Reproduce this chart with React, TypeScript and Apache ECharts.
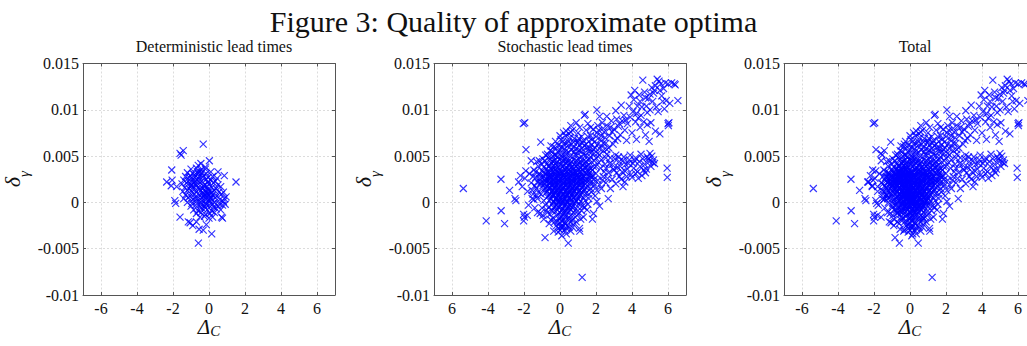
import React, { useEffect, useRef } from 'react';
import * as echarts from 'echarts';

const mainTitle = 'Figure 3: Quality of approximate optima';
const panelTitles = ['Deterministic lead times', 'Stochastic lead times', 'Total'];
const xTicks = [-6, -4, -2, 0, 2, 4, 6];
const yMin = -0.01;
const yMax = 0.015;
const yStep = 0.005;

// Deterministic lead times: [Delta_C, delta_gamma]
const deterministic: number[][] = [
  [-0.32, .0063], [-1.61, .0053], [-1.55, .0051], [-1.43, .0056], [0.02, .0045], [-2.07, .0035], [1.5, .0022],
  [-2.35, .0022], [-2.05, .0024], [-0.59, -.0044], [0.15, -.0034], [-1.61, -.0016], [-1.15, -.0021], [-1.05, -.0022],
  [0.7, -.0016], [0.75, -.0017], [-0.32, -.003], [-0.55, -.0029], [-0.9, -.0025], [-1.9, .0002], [-1.85, -.0001],
  [-2.1, .0018], [-1.8, .0017], [0.85, .0029], [0.5, .0033], [0.95, .0006], [0.9, -.0002], [0.8, .0011],
  [-0.45, .0042], [-0.6, .004], [-0.2, .0038], [-0.7, -.0021], [-0.15, -.0024],
  [-1.0, .0036], [-0.7, .0037], [-0.45, .0035], [-0.2, .0036],
  [-1.2, .0032], [-0.9, .0031], [-0.65, .0033], [-0.4, .0032], [-0.15, .0031], [0.1, .0033],
  [-1.3, .0028], [-1.05, .0029], [-0.8, .0027], [-0.55, .0028], [-0.3, .0029], [-0.05, .0027], [0.2, .0028], [0.45, .0026],
  [-1.4, .0024], [-1.15, .0023], [-0.9, .0025], [-0.65, .0024], [-0.4, .0023], [-0.15, .0025], [0.1, .0024], [0.35, .0023],
  [-1.5, .002], [-1.25, .0021], [-1.0, .0019], [-0.75, .002], [-0.5, .0021], [-0.25, .0019], [0.0, .002], [0.25, .0021], [0.5, .0019],
  [-1.35, .0016], [-1.1, .0015], [-0.85, .0017], [-0.6, .0016], [-0.35, .0015], [-0.1, .0017], [0.15, .0016], [0.4, .0015], [0.65, .0017],
  [-1.45, .0012], [-1.2, .0013], [-0.95, .0011], [-0.7, .0012], [-0.45, .0013], [-0.2, .0011], [0.05, .0012], [0.3, .0013], [0.55, .0011],
  [-1.3, .0008], [-1.05, .0007], [-0.8, .0009], [-0.55, .0008], [-0.3, .0007], [-0.05, .0009], [0.2, .0008], [0.45, .0007], [0.7, .0009],
  [-1.4, .0004], [-1.15, .0005], [-0.9, .0003], [-0.65, .0004], [-0.4, .0005], [-0.15, .0003], [0.1, .0004], [0.35, .0005], [0.6, .0003], [0.85, .0004],
  [-1.2, .0], [-0.95, -.0001], [-0.7, .0001], [-0.45, .0], [-0.2, -.0001], [0.05, .0001], [0.3, .0], [0.55, -.0001], [0.8, .0001],
  [-1.0, -.0004], [-0.75, -.0003], [-0.5, -.0005], [-0.25, -.0004], [0.0, -.0003], [0.25, -.0005], [0.5, -.0004], [0.75, -.0003],
  [-0.85, -.0008], [-0.6, -.0009], [-0.35, -.0007], [-0.1, -.0008], [0.15, -.0009], [0.4, -.0007], [0.65, -.0008],
  [-0.7, -.0012], [-0.45, -.0011], [-0.2, -.0013], [0.05, -.0012], [0.3, -.0011],
  [-0.5, -.0016], [-0.25, -.0015], [0.0, -.0017], [0.2, -.0016],
  [-0.3, .0006], [-0.1, .001], [0.0, .0003], [-0.2, .0013], [0.05, .0009], [-0.4, .0002], [-0.15, -.0002],
  [-0.05, .0014], [-0.25, .0009], [0.1, .0005], [-0.8, .003], [-0.6, .0026], [-0.7, .0019], [-0.9, .0014],
  [-0.55, .0033], [-0.75, .0023], [-1.0, .0018],
  [-0.35, .001], [-0.1, .0006], [0.15, .0011], [-0.3, .0018], [-0.05, .0022], [-0.55, .0014], [-0.8, .0005],
  [-0.6, .0031], [-0.35, .0027], [-0.95, .0022], [-1.1, .0027], [-0.45, -.0002], [0.2, -.0002], [-0.2, -.0006],
];

// Stochastic lead times: [Delta_C, delta_gamma]
const stochastic: number[][] = [
  // sparse outliers
  [-5.37, .0015], [-4.1, -.002], [-3.28, .0025], [-3.27, -.0009], [-3.08, -.0023], [-2.8, .0013], [-2.5, .0004],
  [-2.45, .0002], [-2.04, .0085], [-1.96, .0086], [-1.89, .0057], [-1.07, .0065], [-2.02, -.0013], [-1.98, -.0016],
  [-2.02, -.002], [-1.82, -.0014], [-0.83, -.0038], [-0.5, -.0019], [-0.09, -.0028], [0.1, -.0036], [0.46, -.0044],
  [1.23, -.0081], [1.08, -.0028], [1.1, -.0031], [1.86, -.0012], [1.8, -.0018], [2.68, .0004], [3.5, .0017],
  [5.95, .0037], [5.96, .0027], [6.0, .0085], [6.02, .0083], [-1.55, .0004], [-1.1, -.0012], [-0.95, -.0014],
  [0.0, -.003], [-0.2, -.0025], [0.5, -.0027], [0.75, -.0024], [1.3, -.0016], [1.5, -.0008], [2.2, -.0004], [2.05, .0001],
  // left halo
  [-2.3, .0022], [-2.1, .0017], [-1.95, .0026], [-1.8, .0012], [-1.7, .0031], [-1.6, .0021], [-1.5, .0009],
  [-1.45, .0035], [-1.35, .0027], [-1.3, .0015], [-1.25, .0004], [-1.2, .0039], [-1.15, .0031], [-1.1, .002],
  [-1.05, .0009], [-1.9, .0034], [-2.2, .0029], [-1.75, -.0003], [-1.4, -.0006], [-1.25, -.0011], [-1.0, -.0006],
  [-0.9, -.0018], [-0.7, -.0011], [-0.6, -.0023], [-0.35, -.0031], [-1.6, .0045], [-1.3, .0044], [-0.95, .0047],
  [-0.7, .0052], [-0.45, .0055], [-0.2, .0058], [-0.5, .0061], [-0.25, .0066], [0.05, .0068], [0.3, .0072],
  [0.5, .0074], [0.2, .0063], [0.45, .0066], [-0.1, .0062], [0.65, .0063], [0.8, .0069], [0.9, .0058], [1.1, .0062],
  [1.2, .0055], [1.5, .0059], [1.3, .0067], [1.7, .0072], [1.4, .0095], [2.05, .01], [1.9, .0065], [1.75, .0054],
  [2.0, .0048], [2.2, .0058],
  [-1.5, .0028], [-1.35, .0033], [-1.25, .0022], [-1.4, .0018], [-1.2, .0011], [-1.3, .0007], [-1.15, .0026],
  [-1.55, .0013], [-1.45, .0003], [-1.0, .0041], [-0.85, .0045], [-1.15, .0045], [-0.65, .0048], [-0.4, .005],
  [-0.55, .0056], [-0.8, .0051], [-0.35, .006], [-0.1, .0054], [0.1, .006], [0.25, .0058], [0.4, .0064], [0.55, .007],
  [0.15, .0066], [0.0, .0072], [0.35, .0077], [0.2, .0075], [0.6, .0076], [-0.9, .0002], [-0.8, -.0003],
  [-0.75, -.0008], [-0.6, -.0005], [-0.55, -.0013], [-0.45, -.0009], [-0.4, -.0017], [-0.3, -.0021], [-0.15, -.0021],
  [-0.1, -.0032], [0.05, -.0026], [0.25, -.003], [0.35, -.0034], [0.6, -.0031], [0.55, -.0018], [0.7, -.0027],
  [0.9, -.0021], [0.95, -.001], [1.15, -.0018], [1.25, -.0004], [1.4, .0002],
  // right of core
  [1.6, .0004], [1.75, .0011], [1.9, .0018], [2.1, .0024], [2.3, .0015], [2.4, .0028], [2.55, .0021], [2.7, .0032],
  [2.25, .0037], [2.0, .0031], [1.85, .0039], [2.15, .0043], [2.5, .0041], [1.65, .0046], [1.55, -.0002],
  [1.35, -.0005], [1.2, -.0009], [1.0, -.0013], [0.85, -.0016], [0.7, -.0019], [0.55, -.0021], [2.9, .0025],
  [3.1, .002], [2.8, .0015], [3.3, .0028], [3.6, .0022], [3.0, .0035],
  [1.6, .0009], [1.7, .0015], [1.85, .0021], [1.95, .0007], [2.05, .0013], [2.2, .0019], [2.35, .0024], [2.45, .0033],
  [2.3, .0046], [2.55, .0037], [2.65, .0026], [1.9, .0045], [2.0, .0039], [1.8, .0029], [1.9, .0025], [1.65, .0021],
  [1.7, .0049], [1.45, .0051], [1.85, .0057], [2.1, .0053], [1.6, .0055], [1.2, .0058], [1.35, .0061], [0.95, .0064],
  [1.05, .0069], [0.75, .0059], [0.5, .0054], [0.8, .0055], [2.4, .0064], [2.55, .0048], [2.75, .0042], [2.6, .0057],
  // lower arm
  [2.9, .0041], [3.05, .0047], [3.2, .0038], [3.3, .0044], [3.45, .0033], [3.55, .0049], [3.65, .0041], [3.75, .0036],
  [3.85, .0046], [3.95, .003], [4.05, .0042], [4.1, .0037], [4.2, .0048], [4.3, .0033], [4.4, .0044], [4.45, .0039],
  [4.55, .0029], [4.6, .0047], [4.7, .0041], [4.8, .0036], [4.85, .0049], [4.95, .0044], [5.05, .0039], [5.1, .005],
  [5.2, .0046], [5.25, .0042], [3.4, .0025], [3.7, .0028], [4.0, .0027], [4.2, .0031], [3.15, .0032], [2.95, .0036],
  [3.5, .0045], [3.9, .0051], [4.5, .0052], [5.0, .0053], [4.75, .0032], [4.35, .0026], [3.1, .0051], [2.8, .0048],
  [3.35, .0039], [3.6, .0034], [3.8, .0042], [4.15, .0045], [4.65, .0035], [4.9, .0047], [5.15, .0043], [3.25, .0049],
  // upper band
  [1.0, .0075], [1.2, .0071], [1.45, .0078], [1.6, .0066], [1.85, .0079], [2.0, .0071], [2.1, .0083], [2.25, .0068],
  [2.35, .0086], [2.45, .0076], [2.55, .0064], [2.65, .0082], [2.75, .0072], [2.85, .0088], [3.0, .0079], [3.05, .0067],
  [3.15, .009], [3.25, .0082], [3.35, .0073], [3.45, .0088], [3.55, .0094], [3.6, .0078], [3.7, .0067], [3.75, .0085],
  [3.85, .0104], [3.9, .0092], [4.0, .0075], [4.05, .0098], [4.1, .0111], [4.2, .0087], [4.25, .0068], [4.3, .0104],
  [4.4, .0116], [4.45, .0081], [4.5, .0094], [4.55, .0103], [4.6, .0132], [4.65, .0087], [4.7, .0119], [4.75, .0073],
  [4.8, .0104], [4.85, .0084], [4.9, .0112], [4.95, .0066], [5.0, .01], [5.05, .0086], [5.1, .0124], [5.15, .0109],
  [5.2, .0118], [5.3, .0077], [5.35, .0103], [5.4, .0133], [5.5, .0131], [5.55, .0074], [5.6, .0128], [5.65, .0115],
  [5.7, .0109], [5.75, .0123], [5.85, .0129], [5.9, .011], [6.0, .0128], [6.1, .0107], [6.2, .0129], [6.35, .0128],
  [6.4, .0127], [6.55, .011], [6.05, .0086], [5.45, .0098], [5.8, .0101], [2.2, .0093], [1.35, .0094], [0.9, .0086],
  [0.6, .0083], [1.1, .0081], [2.6, .0093], [3.1, .0099], [3.4, .0105], [4.15, .0121], [3.95, .0116], [5.25, .0121],
  [2.95, .0063], [2.3, .0061], [1.95, .0059], [4.35, .0091], [4.85, .0097], [0.7, .0078], [1.55, .0085],
  [1.75, .0062], [2.5, .007],
  [0.3, .0055], [0.6, .0057], [0.85, .0052], [1.05, .0056], [1.3, .0052], [1.45, .0063], [1.65, .0058], [1.9, .0053],
  [2.1, .0063], [2.4, .0056], [2.6, .0052], [0.15, .0052], [0.45, .0061], [0.75, .0065], [1.0, .0066], [1.25, .0064],
  [1.55, .0071], [1.8, .0068], [2.05, .0075], [2.3, .0072], [2.7, .0059], [2.2, .0051], [0.0, .0057], [-0.3, .0051],
  [0.35, .0047], [-0.15, .0049],
  [2.4, .008], [2.9, .0076], [3.3, .0085], [3.65, .0089], [4.25, .0096], [4.45, .0109], [4.75, .0113], [5.0, .0117],
  [5.3, .0126], [5.55, .0121], [1.7, .0081], [2.15, .0078], [3.2, .0069], [2.8, .0081],
  // dense core
  [-0.2, .0051], [0.1, .0049], [0.35, .0052], [0.6, .005], [0.9, .0051], [1.2, .0049],
  [-0.55, .0047], [-0.3, .0045], [0.0, .0046], [0.25, .0047], [0.5, .0045], [0.75, .0046], [1.0, .0047], [1.3, .0045], [1.55, .0046],
  [-0.75, .0041], [-0.5, .0043], [-0.25, .0042], [0.05, .0041], [0.3, .0043], [0.55, .0042], [0.8, .0041], [1.05, .0043], [1.35, .0042], [1.6, .0041],
  [-0.9, .0038], [-0.6, .0039], [-0.35, .0037], [-0.1, .0038], [0.15, .0039], [0.4, .0037], [0.65, .0038], [0.9, .0039], [1.15, .0037], [1.4, .0038], [1.7, .0037],
  [-1.0, .0034], [-0.7, .0033], [-0.45, .0035], [-0.2, .0034], [0.05, .0033], [0.3, .0035], [0.55, .0034], [0.8, .0033], [1.05, .0035], [1.3, .0034], [1.55, .0033], [1.8, .0035],
  [-1.1, .003], [-0.8, .0031], [-0.55, .0029], [-0.3, .003], [-0.05, .0031], [0.2, .0029], [0.45, .003], [0.7, .0031], [0.95, .0029], [1.2, .003], [1.45, .0031], [1.7, .0029],
  [-1.0, .0026], [-0.75, .0025], [-0.5, .0027], [-0.25, .0026], [0.0, .0025], [0.25, .0027], [0.5, .0026], [0.75, .0025], [1.0, .0027], [1.25, .0026], [1.5, .0025], [1.75, .0027],
  [-1.05, .0022], [-0.8, .0023], [-0.55, .0021], [-0.3, .0022], [-0.05, .0023], [0.2, .0021], [0.45, .0022], [0.7, .0023], [0.95, .0021], [1.2, .0022], [1.45, .0023],
  [-0.95, .0018], [-0.7, .0017], [-0.45, .0019], [-0.2, .0018], [0.05, .0017], [0.3, .0019], [0.55, .0018], [0.8, .0017], [1.05, .0019], [1.3, .0018], [1.55, .0017],
  [-0.9, .0014], [-0.65, .0015], [-0.4, .0013], [-0.15, .0014], [0.1, .0015], [0.35, .0013], [0.6, .0014], [0.85, .0015], [1.1, .0013], [1.35, .0014],
  [-0.8, .001], [-0.55, .0009], [-0.3, .0011], [-0.05, .001], [0.2, .0009], [0.45, .0011], [0.7, .001], [0.95, .0009], [1.2, .0011], [1.45, .001],
  [-0.7, .0006], [-0.45, .0007], [-0.2, .0005], [0.05, .0006], [0.3, .0007], [0.55, .0005], [0.8, .0006], [1.05, .0007], [1.3, .0005],
  [-0.6, .0002], [-0.35, .0001], [-0.1, .0003], [0.15, .0002], [0.4, .0001], [0.65, .0003], [0.9, .0002], [1.15, .0001],
  [-0.45, -.0002], [-0.2, -.0003], [0.05, -.0001], [0.3, -.0002], [0.55, -.0003], [0.8, -.0001], [1.05, -.0002],
  [-0.35, -.0006], [-0.1, -.0005], [0.15, -.0007], [0.4, -.0006], [0.65, -.0005], [0.9, -.0007],
  [-0.25, -.001], [0.0, -.0011], [0.25, -.0009], [0.5, -.001], [0.75, -.0011],
  [-0.15, -.0014], [0.1, -.0015], [0.35, -.0013], [0.6, -.0014],
  [-0.05, -.0018], [0.2, -.0019], [0.45, -.0017],
  [0.0, -.0022], [0.3, -.0023], [0.15, -.0026], [0.4, -.0025],
  // inner core fill
  [-0.45, .0032], [-0.2, .0033], [0.05, .0031], [0.3, .0032], [0.55, .0033], [0.8, .0031], [1.05, .0032],
  [-0.55, .0028], [-0.3, .0027], [-0.05, .0028], [0.2, .0029], [0.45, .0027], [0.7, .0028], [0.95, .0029], [1.2, .0027],
  [-0.6, .0024], [-0.35, .0023], [-0.1, .0024], [0.15, .0025], [0.4, .0023], [0.65, .0024], [0.9, .0025], [1.15, .0023],
  [-0.6, .002], [-0.35, .0019], [-0.1, .0021], [0.15, .002], [0.4, .0019], [0.65, .0021], [0.9, .002], [1.15, .0019],
  [-0.55, .0016], [-0.3, .0015], [-0.05, .0016], [0.2, .0017], [0.45, .0015], [0.7, .0016], [0.95, .0017],
  [-0.45, .0012], [-0.2, .0011], [0.05, .0013], [0.3, .0012], [0.55, .0011], [0.8, .0012],
  [-0.35, .0008], [-0.1, .0007], [0.15, .0009], [0.4, .0008], [0.65, .0007],
  [-0.2, .0004], [0.05, .0003], [0.3, .0005], [0.55, .0004],
  [-0.1, .0], [0.15, -.0001], [0.4, .0001],
  [-0.4, .0044], [-0.15, .0044], [0.15, .0045], [0.4, .0043], [0.65, .0044], [0.9, .0045], [1.15, .0043], [1.45, .0044],
  [-0.6, .004], [-0.35, .004], [-0.1, .0041], [0.2, .004], [0.45, .004], [0.7, .0039], [0.95, .0041], [1.25, .004], [1.5, .0039],
  [-0.75, .0036], [-0.5, .0036], [-0.25, .0036], [0.0, .0035], [0.25, .0036], [0.5, .0036], [0.75, .0036], [1.0, .0037], [1.25, .0036], [1.55, .0036],
  [-0.85, .0032], [-0.6, .0032], [-0.35, .0033], [-0.1, .0032], [0.15, .0032], [0.4, .0033], [0.65, .0032], [0.9, .0032], [1.15, .0033], [1.4, .0032], [1.65, .0032],
  [-0.9, .0028], [-0.65, .0028], [-0.4, .0028], [-0.15, .0029], [0.1, .0028], [0.35, .0028], [0.6, .0029], [0.85, .0028], [1.1, .0028], [1.35, .0028], [1.6, .0029],
  [-0.85, .0024], [-0.6, .0025], [-0.35, .0024], [-0.1, .0024], [0.15, .0024], [0.4, .0025], [0.65, .0024], [0.9, .0024], [1.15, .0025], [1.4, .0024], [1.65, .0024],
  [-0.85, .002], [-0.6, .0021], [-0.35, .002], [-0.1, .002], [0.15, .0021], [0.4, .002], [0.65, .002], [0.9, .0021], [1.15, .002], [1.4, .002],
  [-0.8, .0016], [-0.55, .0016], [-0.3, .0017], [-0.05, .0016], [0.2, .0016], [0.45, .0017], [0.7, .0016], [0.95, .0016], [1.2, .0016], [1.45, .0016],
  [-0.7, .0012], [-0.45, .0012], [-0.2, .0013], [0.05, .0012], [0.3, .0012], [0.55, .0012], [0.8, .0013], [1.05, .0012], [1.3, .0012],
  [-0.6, .0008], [-0.35, .0008], [-0.1, .0009], [0.15, .0008], [0.4, .0008], [0.65, .0009], [0.9, .0008], [1.15, .0008],
  [-0.5, .0004], [-0.25, .0004], [0.0, .0005], [0.25, .0004], [0.5, .0004], [0.75, .0005], [1.0, .0004],
  [-0.35, .0], [-0.1, .0001], [0.15, .0], [0.4, -.0001], [0.65, .0], [0.9, .0001],
  [-0.25, -.0004], [0.0, -.0004], [0.25, -.0004], [0.5, -.0005], [0.75, -.0004],
  [-0.15, -.0008], [0.1, -.0008], [0.35, -.0009], [0.6, -.0008],
  [0.1, -.0028], [0.25, -.0022], [0.05, -.0016], [0.2, -.0012], [0.3, -.0016], [0.1, -.002], [0.35, -.0028],
];

const total: number[][] = deterministic.concat(stochastic);
const panelData = [deterministic, stochastic, total];

export default function App() {
  const ref = useRef<HTMLDivElement>(null);
  useEffect(() => {
    const chart = echarts.init(ref.current!, null, { renderer: 'svg' });
    const font = 'Liberation Serif';
    const lefts = [83, 434, 784];
    const W = 252;
    const top = 63.5;
    const H = 231.5;
    const axisColor = '#555';
    const gridColor = '#dcdcdc';

    const grids: any[] = [];
    const xAxes: any[] = [];
    const yAxes: any[] = [];
    const series: any[] = [];
    const titles: any[] = [
      {
        text: mainTitle,
        left: 'center',
        top: 1,
        textStyle: { fontFamily: font, fontSize: 30, fontWeight: 'normal', color: '#111' },
      },
    ];

    lefts.forEach((l, i) => {
      grids.push({ left: l, top, width: W, height: H, containLabel: false, outerBoundsMode: 'none' });
      titles.push({
        text: panelTitles[i],
        left: l + W / 2,
        top: 33,
        textAlign: 'center',
        textStyle: { fontFamily: font, fontSize: 16, fontWeight: 'normal', color: '#111' },
      });
      const xBase = {
        type: 'value',
        gridIndex: i,
        min: -7,
        max: 7,
        axisLine: { show: true, onZero: false, lineStyle: { color: axisColor, width: 1 } },
        axisTick: { show: true, inside: true, length: 3, customValues: xTicks, lineStyle: { color: axisColor } },
      };
      xAxes.push({
        ...xBase,
        position: 'bottom',
        axisLabel: {
          customValues: xTicks,
          margin: 6,
          lineHeight: 14,
          fontFamily: font,
          fontSize: 16,
          color: '#111',
          formatter: (v: number) => (i === 1 && v === -6 ? '6' : String(v)),
        },
        splitLine: { show: true, lineStyle: { color: gridColor, type: [2, 2], width: 1 } },
        name: '{a|Δ}{b|C}',
        nameLocation: 'middle',
        nameGap: 21,
        nameMoveOverlap: false,
        nameTextStyle: {
          rich: {
            a: { fontFamily: font, fontStyle: 'italic', fontSize: 21, color: '#111', lineHeight: 22, verticalAlign: 'top' },
            b: { fontFamily: font, fontStyle: 'italic', fontSize: 15, color: '#111', lineHeight: 16, verticalAlign: 'bottom', padding: [13, 0, 0, 0] },
          },
        },
      });
      xAxes.push({
        ...xBase,
        position: 'top',
        axisLabel: { show: false },
        splitLine: { show: false },
      });
      const yBase = {
        type: 'value',
        gridIndex: i,
        min: yMin,
        max: yMax,
        interval: yStep,
        axisLine: { show: true, onZero: false, lineStyle: { color: axisColor, width: 1 } },
        axisTick: { show: true, inside: true, length: 3, lineStyle: { color: axisColor } },
      };
      yAxes.push({
        ...yBase,
        position: 'left',
        axisLabel: { margin: 4, fontFamily: font, fontSize: 16, color: '#111' },
        splitLine: { show: true, lineStyle: { color: gridColor, type: [2, 2], width: 1 } },
        name: '{a|δ}{b|γ}',
        nameLocation: 'middle',
        nameGap: 52,
        nameRotate: 90,
        nameMoveOverlap: false,
        nameTextStyle: {
          rich: {
            a: { fontFamily: font, fontStyle: 'italic', fontSize: 22, color: '#111', lineHeight: 30, verticalAlign: 'top' },
            b: { fontFamily: font, fontStyle: 'italic', fontSize: 15, color: '#111', lineHeight: 30, verticalAlign: 'bottom', padding: [6, 0, 0, 0] },
          },
        },
      });
      yAxes.push({
        ...yBase,
        position: 'right',
        axisLabel: { show: false },
        splitLine: { show: false },
      });
      series.push({
        type: 'scatter',
        xAxisIndex: 2 * i,
        yAxisIndex: 2 * i,
        data: panelData[i],
        symbol: 'path://M0,0L10,10M10,0L0,10',
        symbolSize: 7,
        itemStyle: { color: 'rgba(0,0,0,0)', borderColor: '#0000ff', borderWidth: 1.15, opacity: 0.8 },
        emphasis: { disabled: true },
      });
    });

    chart.setOption({
      animation: false,
      backgroundColor: '#ffffff',
      title: titles,
      grid: grids,
      xAxis: xAxes,
      yAxis: yAxes,
      series,
    });
    return () => chart.dispose();
  }, []);
  return <div ref={ref} style={{ position: 'fixed', left: 0, top: 0, width: 1027, height: 346 }} />;
}
